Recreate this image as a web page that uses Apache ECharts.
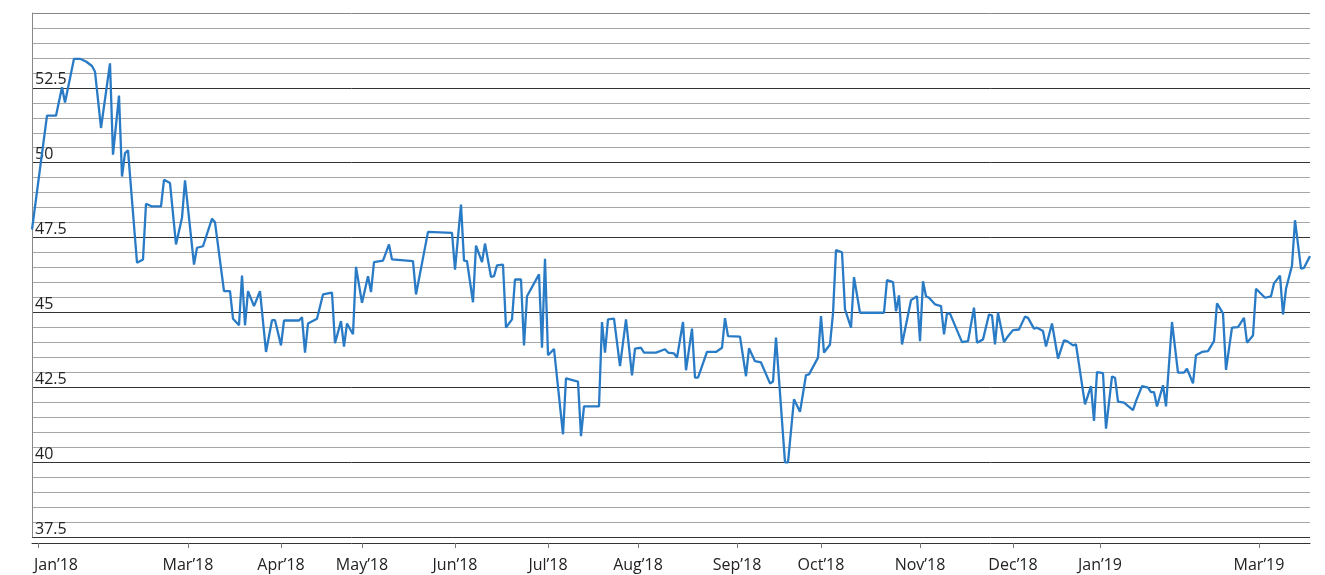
<!DOCTYPE html>
<html>
<head>
<meta charset="utf-8">
<script src="https://cdn.jsdelivr.net/npm/echarts@6/dist/echarts.min.js"></script>
<style>
html,body{margin:0;padding:0;background:#fff;}
#chart{width:1325px;height:575px;}
</style>
</head>
<body>
<div id="chart"></div>
<script>
// Month labels shown on the x axis and the observation at which each month starts
const monthLabels = ["Jan’18","Mar’18","Apr’18","May’18","Jun’18","Jul’18","Aug’18","Sep’18","Oct’18","Nov’18","Dec’18","Jan’19","Mar’19"];
const monthStartIdx = [2,52,83,110,141,172,202,235,263,296,327,356,409];
const obsCount = 427;

// Observations (index in the ordinal sequence, value)
const obsIndex = [
  0,5,8,10,11,14,16,18,20,21,23,26,27,29,30,31,32,35,37,38,40,43,44,46,48,50,51,54,55,57,
  60,61,64,66,67,69,70,71,72,74,76,78,80,81,83,84,89,90,91,92,95,97,100,101,103,104,105,107,108,110,
  112,113,114,117,119,120,127,128,132,140,141,143,144,145,147,148,150,151,153,154,155,157,158,160,161,163,164,165,169,170,
  171,172,174,177,178,182,183,184,189,190,191,192,194,196,198,200,201,203,204,208,211,212,214,215,217,218,220,221,222,225,
  228,230,231,232,236,238,239,241,243,246,247,248,251,252,254,256,258,259,262,263,264,266,267,268,270,271,273,274,276,284,
  285,287,288,289,290,293,295,296,297,298,299,301,303,304,305,306,310,312,314,315,317,319,320,321,322,324,325,327,329,331,
  332,334,335,337,338,340,342,344,345,347,348,351,353,354,355,357,358,360,361,362,364,367,368,370,372,373,374,375,377,378,
  380,382,384,385,387,388,390,392,394,395,397,398,400,402,404,405,407,408,411,413,414,416,417,418,420,421,423,424,426
];
const obsValue = [
  47.77,51.57,51.57,52.52,52.01,53.47,53.47,53.38,53.23,53.04,51.16,53.32,50.27,52.24,49.54,50.32,50.41,46.66,46.77,48.63,48.54,48.54,49.43,49.32,47.27,48.16,49.41,46.6,47.16,47.21,
  48.13,48.01,45.71,45.71,44.79,44.57,46.23,44.57,45.71,45.21,45.71,43.68,44.74,44.74,43.9,44.73,44.73,44.84,43.66,44.63,44.79,45.6,45.66,43.97,44.71,43.86,44.63,44.27,46.52,45.32,
  46.21,45.68,46.68,46.73,47.27,46.77,46.71,45.6,47.69,47.66,46.43,48.6,46.73,46.71,45.34,47.23,46.68,47.3,46.19,46.21,46.57,46.6,44.49,44.77,46.1,46.1,43.9,45.54,46.27,43.82,
  46.79,43.57,43.78,40.93,42.8,42.69,40.87,41.86,41.86,44.68,43.66,44.77,44.79,43.21,44.77,42.9,43.79,43.82,43.66,43.66,43.77,43.66,43.63,43.49,44.68,43.07,44.46,42.82,42.82,43.68,
  43.68,43.82,44.81,44.21,44.19,42.87,43.8,43.37,43.33,42.63,42.69,44.16,39.99,39.99,42.1,41.68,42.91,42.93,43.49,44.88,43.66,43.93,44.97,47.08,47.01,45.1,44.49,46.18,44.99,44.99,
  46.08,46.01,45.04,45.57,43.93,45.41,45.54,44.04,46.04,45.54,45.49,45.27,45.21,44.27,44.97,44.96,44.01,44.04,45.16,43.99,44.1,44.93,44.9,43.93,44.99,44.01,44.16,44.41,44.43,44.86,
  44.82,44.46,44.49,44.38,43.86,44.63,43.46,44.07,44.04,43.9,43.93,41.93,42.54,41.38,43.01,42.97,41.12,42.86,42.82,42.02,41.99,41.74,42.04,42.54,42.49,42.34,42.34,41.86,42.57,41.86,
  44.68,42.99,42.99,43.12,42.63,43.57,43.68,43.71,44.04,45.3,44.97,43.08,44.49,44.51,44.82,43.99,44.23,45.79,45.49,45.54,45.97,46.23,44.93,45.79,46.57,48.08,46.46,46.49,46.88
];

// y axis scale
const yMin = 37.5, yMax = 55, yStep = 2.5;

const categories = Array.from({length: obsCount}, (_, i) => String(i));
const seriesData = new Array(obsCount).fill(null);
obsIndex.forEach((k, j) => { seriesData[k] = obsValue[j]; });
const labelMap = {};
monthStartIdx.forEach((k, j) => { labelMap[k] = monthLabels[j]; });
const isLabel = (i) => Object.prototype.hasOwnProperty.call(labelMap, i);

const chart = echarts.init(document.getElementById('chart'), null, {renderer: 'canvas'});
chart.setOption({
  animation: false,
  backgroundColor: '#ffffff',
  grid: {left: 32, right: 15, top: 13, bottom: 38, containLabel: false},
  xAxis: {
    type: 'category',
    data: categories,
    boundaryGap: false,
    offset: 6,
    axisLine: {show: true, lineStyle: {color: '#333', width: 1}},
    axisTick: {show: true, interval: (i) => isLabel(i), length: 5, lineStyle: {color: '#777', width: 1}},
    axisLabel: {
      interval: (i) => isLabel(i),
      formatter: (v, i) => (monthStartIdx[0] === +v) ? '{first|' + labelMap[+v] + '}' : labelMap[+v],
      margin: 14,
      fontFamily: 'Open Sans',
      fontSize: 16,
      color: '#222',
      rich: {first: {fontFamily: 'Open Sans', fontSize: 16, color: '#222', padding: [0, 0, 0, 36]}}
    },
    splitLine: {show: false}
  },
  yAxis: {
    type: 'value',
    min: yMin, max: yMax, interval: yStep,
    axisLine: {show: true, lineStyle: {color: '#888', width: 1}},
    axisTick: {show: false},
    axisLabel: {
      inside: true, showMaxLabel: false, margin: 3,
      verticalAlign: 'bottom',
      fontFamily: 'Open Sans', fontSize: 16, color: '#222'
    },
    splitLine: {show: true, lineStyle: {color: ['#333','#333','#333','#333','#333','#333','#333','#888'], width: 1}},
    minorTick: {show: false, splitNumber: 5},
    minorSplitLine: {show: true, lineStyle: {color: '#a6a6a6', width: 1.2}}
  },
  series: [{
    type: 'line',
    data: seriesData,
    connectNulls: true,
    showSymbol: false,
    symbol: 'none',
    lineStyle: {color: '#2a7bc5', width: 2.3},
    z: 5
  }]
});
</script>
</body>
</html>
